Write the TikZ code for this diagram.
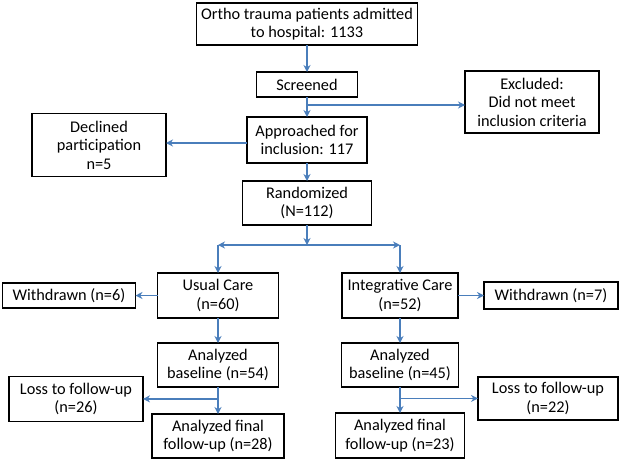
\documentclass[tikz,border=0pt]{standalone}
\usepackage{fontspec}
\setmainfont{Carlito}
\usepackage{xcolor}
\usepackage{tikz}
\usetikzlibrary{arrows.meta,positioning,calc}

\definecolor{flowblue}{RGB}{74,126,187}

\begin{document}
\begin{tikzpicture}[
        x=1pt, y=-1pt,
        node distance=20pt,
        block/.style={rectangle, draw=black, line width=1.4pt, fill=white, align=center, inner sep=1pt, outer sep=0pt, font=\fontsize{16.3}{18.5}\selectfont},
        arrow/.style={->, >={Stealth[length=7pt,width=7pt]}, draw=flowblue, line width=1.8pt}
      ]
        \useasboundingbox (0,0) rectangle (620,461);

        % Main column
        \node[block, minimum width=221pt, minimum height=42pt] (admitted) at (307,24) {Ortho trauma patients admitted\\to hospital: 1133};
        \node[block, minimum width=101pt, minimum height=25pt, below=27pt of admitted] (screened) {Screened};
        \node[block, minimum width=120pt, minimum height=46pt, below=20pt of screened] (approached) {Approached for\\inclusion: 117};
        \node[block, minimum width=129pt, minimum height=44pt, below=18pt of approached] (randomized) {Randomized\\(N=112)};

        % Exclusions
        \coordinate (excl_split) at ($(screened.south)!0.4!(approached.north)$);
        \node[block, minimum width=134pt, minimum height=62pt, right=158pt of excl_split, yshift=3pt] (excluded) {Excluded:\\Did not meet\\inclusion criteria};
        \node[block, minimum width=134pt, minimum height=63pt, left=81pt of approached, yshift=-5pt] (declined) {Declined\\participation\\n=5};

        % Split into arms
        \coordinate[below=20pt of randomized] (arm_split);
        \coordinate[left=89pt of arm_split] (arm_left);
        \coordinate[right=93pt of arm_split] (arm_right);

        % Usual care arm
        \node[block, minimum width=121pt, minimum height=45pt, below=28pt of arm_left] (usual) {Usual Care\\(n=60)};
        \node[block, minimum width=133pt, minimum height=25pt, left=22pt of usual] (withdrawn_usual) {Withdrawn (n=6)};
        \node[block, minimum width=121pt, minimum height=44pt, below=25pt of usual] (base_usual) {Analyzed\\baseline (n=54)};
        \node[block, minimum width=132pt, minimum height=44pt, below=27pt of base_usual] (final_usual) {Analyzed final\\follow-up (n=28)};
        \coordinate (loss_split_usual) at ($(base_usual.south)!0.44!(final_usual.north)$);
        \node[block, minimum width=134pt, minimum height=45pt, left=75pt of loss_split_usual] (loss_usual) {Loss to follow-up\\(n=26)};

        % Integrative care arm
        \node[block, minimum width=116pt, minimum height=45pt, below=28pt of arm_right] (integrative) {Integrative Care\\(n=52)};
        \node[block, minimum width=134pt, minimum height=27pt, right=26pt of integrative] (withdrawn_integ) {Withdrawn (n=7)};
        \node[block, minimum width=117pt, minimum height=44pt, below=25pt of integrative] (base_integ) {Analyzed\\baseline (n=45)};
        \node[block, minimum width=129pt, minimum height=45pt, below=26pt of base_integ] (final_integ) {Analyzed final\\follow-up (n=23)};
        \coordinate (loss_split_integ) at ($(base_integ.south)!0.44!(final_integ.north)$);
        \node[block, minimum width=140pt, minimum height=43pt, right=78pt of loss_split_integ] (loss_integ) {Loss to follow-up\\(n=22)};

        % Arrows
        \draw[arrow] (admitted) -- (screened);
        \draw[arrow] (screened) -- (approached);
        \draw[arrow] (excl_split) -- (excl_split -| excluded.west);
        \draw[arrow] (approached.west |- 0,143) -- (declined.east |- 0,143);
        \draw[arrow] (approached) -- (randomized);
        \draw[arrow] (randomized) -- (arm_split);
        \draw[arrow] (arm_split) -- (arm_left);
        \draw[arrow] (arm_split) -- (arm_right);
        \draw[arrow] (arm_left) -- (usual);
        \draw[arrow] (arm_right) -- (integrative);
        \draw[arrow] (usual) -- (withdrawn_usual);
        \draw[arrow] (integrative) -- (withdrawn_integ);
        \draw[arrow] (usual) -- (base_usual);
        \draw[arrow] (integrative) -- (base_integ);
        \draw[arrow] (base_usual) -- (final_usual);
        \draw[arrow] (base_integ) -- (final_integ);
        \draw[arrow] (loss_split_usual) -- (loss_usual);
        \draw[arrow] (loss_split_integ) -- (loss_integ);
      \end{tikzpicture}
\end{document}
